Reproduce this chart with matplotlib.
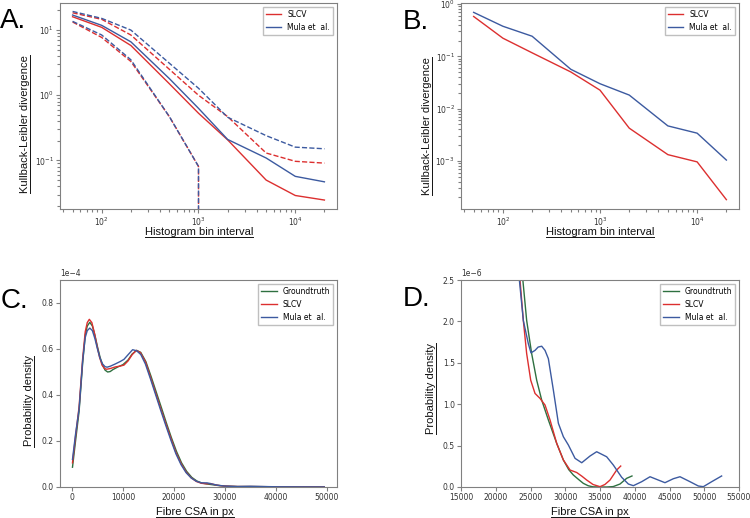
import numpy as np
import matplotlib.pyplot as plt
from matplotlib.lines import Line2D

# ---- data ----
bins = [50, 100, 200, 500, 1000, 2000, 5000, 10000, 20000]

# panel A: KL divergence, mean and confidence band
kl_slcv = [16.0, 11.0, 5.8, 1.5, 0.53, 0.207, 0.050, 0.029, 0.0247]
kl_slcv_hi = [18.4, 14.6, 8.4, 2.5, 1.0, 0.47, 0.13, 0.097, 0.091]
kl_slcv_lo = [13.3, 7.7, 3.3, 0.47, 0.081, 0, 0, 0, 0]
kl_mula = [17.0, 11.8, 6.6, 1.8, 0.63, 0.21, 0.109, 0.057, 0.047]
kl_mula_hi = [19.3, 15.1, 10.0, 3.1, 1.28, 0.46, 0.24, 0.16, 0.151]
kl_mula_lo = [13.6, 8.4, 3.5, 0.47, 0.081, 0, 0, 0, 0]

# panel B
kl2_slcv = [0.58, 0.223, 0.117, 0.0504, 0.0226, 0.00424, 0.00132, 0.00096, 0.000182]
kl2_mula = [0.695, 0.377, 0.243, 0.0567, 0.030, 0.0182, 0.00468, 0.0034, 0.00104]

# panel C: density (units of 1e-4)
c_gt_x = [100, 700, 1400, 2100, 2600, 3000, 3500, 4000, 4500, 5000, 5500, 6000, 6500, 7000,
          7500, 8000, 9000, 10000, 11000, 11800, 12700, 13500, 14500, 15500, 16500, 17500,
          18500, 19500, 20500, 21500, 22500, 23500, 24500, 25500, 26500, 27500, 28500,
          30000, 32500, 35000, 40000, 45000, 49500]
c_gt_y = [0.086, 0.20, 0.33, 0.54, 0.66, 0.70, 0.716, 0.700, 0.660, 0.610, 0.565, 0.530, 0.508,
          0.500, 0.502, 0.510, 0.522, 0.532, 0.552, 0.578, 0.594, 0.585, 0.545, 0.482, 0.415,
          0.348, 0.280, 0.215, 0.155, 0.105, 0.068, 0.042, 0.026, 0.017, 0.013, 0.010, 0.007,
          0.004, 0.002, 0.002, 0.001, 0.0005, 0.0002]
c_slcv_x = [100, 700, 1400, 2100, 2600, 3000, 3400, 3900, 4400, 4900, 5400, 5900, 6400, 6800,
            7500, 8500, 9500, 10200, 11000, 11800, 12600, 13400, 14400, 15400, 16400, 17400,
            18400, 19400, 20400, 21400, 22400, 23400, 24400, 25400, 26400, 27200, 28000, 29000,
            30000, 32500, 35000, 40000, 45000, 49500]
c_slcv_y = [0.105, 0.22, 0.35, 0.56, 0.675, 0.715, 0.729, 0.715, 0.670, 0.615, 0.565, 0.530,
            0.515, 0.512, 0.515, 0.522, 0.526, 0.530, 0.548, 0.575, 0.594, 0.585, 0.545, 0.478,
            0.410, 0.342, 0.276, 0.212, 0.150, 0.102, 0.065, 0.040, 0.024, 0.016, 0.014, 0.015,
            0.010, 0.006, 0.004, 0.002, 0.002, 0.001, 0.0005, 0.0002]
c_mula_x = [100, 700, 1400, 2100, 2600, 3000, 3500, 4000, 4500, 5000, 5500, 6000, 6500, 6900,
            7500, 8500, 9500, 10200, 11000, 11900, 12700, 13500, 14400, 15400, 16400, 17400,
            18400, 19400, 20400, 21400, 22400, 23400, 24400, 25400, 26500, 27500, 28500, 30000,
            32500, 35000, 40000, 45000, 49500]
c_mula_y = [0.12, 0.23, 0.34, 0.55, 0.65, 0.68, 0.691, 0.680, 0.645, 0.600, 0.560, 0.535, 0.523,
            0.521, 0.525, 0.535, 0.546, 0.555, 0.575, 0.597, 0.592, 0.576, 0.535, 0.470, 0.402,
            0.334, 0.268, 0.204, 0.144, 0.097, 0.062, 0.039, 0.025, 0.018, 0.018, 0.013, 0.008,
            0.004, 0.002, 0.003, 0.001, 0.0005, 0.0002]

# panel D: tail of the density (units of 1e-6)
d_gt_x = [23000, 23900, 24450, 25170, 25890, 26610, 27570, 28770, 29730, 30500, 31160, 32000,
          32600, 33300, 34000, 35000, 36000, 36900, 37880, 38840, 39600]
d_gt_y = [3.30, 2.50, 2.01, 1.61, 1.29, 1.05, 0.81, 0.527, 0.326, 0.21, 0.145, 0.085, 0.044,
          0.015, 0.002, 0.0, 0.0, 0.005, 0.036, 0.105, 0.133]
d_slcv_x = [22800, 23490, 23970, 24450, 25030, 25650, 26370, 27090, 27810, 28770, 29730, 30690,
            31650, 32400, 33090, 34000, 35000, 35700, 36440, 37400, 37980]
d_slcv_y = [3.2, 2.50, 2.01, 1.61, 1.29, 1.13, 1.07, 0.99, 0.81, 0.527, 0.326, 0.205, 0.175,
            0.13, 0.084, 0.03, 0.004, 0.03, 0.084, 0.205, 0.253]
d_mula_x = [22800, 23400, 23970, 24690, 25070, 25650, 26100, 26610, 27090, 27570, 28290, 29010,
            29730, 30450, 31410, 32370, 33560, 34520, 35960, 36920, 38120, 39080, 39800, 41000,
            42200, 43390, 44350, 45550, 46510, 47950, 49150, 49870, 51070, 52500]
d_mula_y = [3.3, 2.50, 2.01, 1.73, 1.62, 1.65, 1.69, 1.70, 1.65, 1.55, 1.17, 0.77, 0.607, 0.507,
            0.346, 0.293, 0.374, 0.426, 0.365, 0.265, 0.117, 0.036, 0.016, 0.064, 0.124, 0.084,
            0.052, 0.100, 0.124, 0.064, 0.012, 0.004, 0.064, 0.133]

RED = '#dc2f2f'
BLUE = '#3c5aa0'
GREEN = '#2e7040'
LAB_FONT = 'Liberation Sans'

W, H = 750, 518
fig = plt.figure(figsize=(W / 100, H / 100), dpi=100)


def px_axes(left, top, right, bottom):
    return fig.add_axes([left / W, 1 - bottom / H, (right - left) / W, (bottom - top) / H])


axA = px_axes(60, 3, 337, 209)
axB = px_axes(461, 3, 739, 209)
axC = px_axes(60, 280, 337, 487)
axD = px_axes(461, 280, 739, 487)

# A
axA.plot(bins, kl_slcv, color=RED, lw=1, label='SLCV')
axA.plot(bins, kl_mula, color=BLUE, lw=1, label='Mula et  al.')
axA.plot(bins, kl_slcv_hi, color=RED, lw=1, ls='--')
axA.plot(bins, kl_slcv_lo, color=RED, lw=1, ls='--')
axA.plot(bins, kl_mula_hi, color=BLUE, lw=1, ls='--')
axA.plot(bins, kl_mula_lo, color=BLUE, lw=1, ls='--')
axA.set_xscale('log')
axA.set_yscale('log')
axA.set_ylim(0.018, 26)

# B
axB.plot(bins, kl2_slcv, color=RED, lw=1, label='SLCV')
axB.plot(bins, kl2_mula, color=BLUE, lw=1, label='Mula et  al.')
axB.set_xscale('log')
axB.set_yscale('log')

# C
axC.plot(c_gt_x, np.array(c_gt_y) * 1e-4, color=GREEN, lw=1, label='Groundtruth')
axC.plot(c_slcv_x, np.array(c_slcv_y) * 1e-4, color=RED, lw=1, label='SLCV')
axC.plot(c_mula_x, np.array(c_mula_y) * 1e-4, color=BLUE, lw=1, label='Mula et  al.')
axC.set_xlim(-2350, 52000)
axC.set_ylim(0, 0.9e-4)
axC.set_xticks(range(0, 50001, 10000))
axC.set_yticks(np.arange(0, 0.81e-4, 0.2e-4))
axC.ticklabel_format(axis='y', style='sci', scilimits=(-4, -4))

# D
axD.plot(d_gt_x, np.array(d_gt_y) * 1e-6, color=GREEN, lw=1, label='Groundtruth')
axD.plot(d_slcv_x, np.array(d_slcv_y) * 1e-6, color=RED, lw=1, label='SLCV')
axD.plot(d_mula_x, np.array(d_mula_y) * 1e-6, color=BLUE, lw=1, label='Mula et  al.')
axD.set_xlim(15000, 55000)
axD.set_ylim(0, 2.5e-6)
axD.set_xticks(range(15000, 55001, 5000))
axD.set_yticks(np.arange(0, 2.51e-6, 0.5e-6))
axD.ticklabel_format(axis='y', style='sci', scilimits=(-6, -6))

for ax in (axA, axB, axC, axD):
    for s in ax.spines.values():
        s.set_color('#808080')
    ax.tick_params(which='both', colors='#808080', labelcolor='#333333', labelsize=5.5,
                   width=0.8, pad=1.5)
    ax.tick_params(which='major', length=3)
    ax.tick_params(which='minor', length=2)
    ax.yaxis.get_offset_text().set_fontsize(5.5)
    ax.yaxis.get_offset_text().set_color('#333333')
    ax.legend(loc='upper right', fontsize=5.5, fancybox=False, edgecolor='#b0b0b0')

# panel letters
for letter, x, y in [('A.', 0, 28), ('B.', 403, 29), ('C.', 1, 308), ('D.', 403, 306)]:
    fig.text(x / W, 1 - y / H, letter, fontsize=20, family=LAB_FONT, va='baseline')

# underlined axis labels: (text, x px, y px, vertical)
labels = [
    ('Histogram bin interval', 199, 235, False),
    ('Histogram bin interval', 600, 235, False),
    ('Fibre CSA in px', 195, 515, False),
    ('Fibre CSA in px', 590, 515, False),
    ('Kullback-Leibler divergence', 28, 124, True),
    ('Kullback-Leibler divergence', 430, 126, True),
    ('Probability density', 32, 401, True),
    ('Probability density', 434, 388, True),
]
texts = []
for s, x, y, vert in labels:
    t = fig.text(x / W, 1 - y / H, s, fontsize=8, family=LAB_FONT, ha='center', va='baseline',
                 rotation=90 if vert else 0, rotation_mode='anchor', color='#111111')
    texts.append((t, x, y, vert))

fig.canvas.draw()
r = fig.canvas.get_renderer()
for t, x, y, vert in texts:
    bb = t.get_window_extent(r)
    if vert:
        lx = (x + 1.8) / W
        fig.add_artist(Line2D([lx, lx], [bb.y0 / H, bb.y1 / H], color='#111111', lw=0.7,
                              transform=fig.transFigure))
    else:
        ly = 1 - (y + 1.8) / H
        fig.add_artist(Line2D([bb.x0 / W, bb.x1 / W], [ly, ly], color='#111111', lw=0.7,
                              transform=fig.transFigure))

fig.savefig('out.png', dpi=100)
